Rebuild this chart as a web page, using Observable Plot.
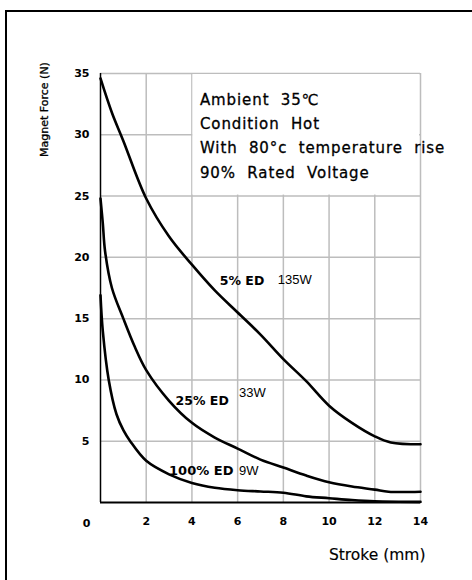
<!DOCTYPE html>
<html>
<head>
<meta charset="utf-8">
<script src="https://cdn.jsdelivr.net/npm/d3@7"></script>
<script src="https://cdn.jsdelivr.net/npm/@observablehq/plot@0.6"></script>
<style>
  html, body { margin: 0; padding: 0; background: #fff; overflow: hidden; }
  #wrap { position: relative; width: 472px; height: 580px; }
  #frame { position: absolute; left: 5px; top: 10px; width: 600px; height: 700px;
           border-left: 2px solid #000; border-top: 2px solid #000; }
  #chart { position: absolute; left: 0; top: 0; }
</style>
</head>
<body>
<div id="wrap"><div id="frame"></div><div id="chart"></div></div>
<script>
// Stroke (mm) and magnet force (N)
const stroke5  = [0, 0.5, 1, 2, 3, 4, 5, 6, 7, 8, 9, 10, 11, 12, 12.7, 14];
const force5   = [34.6, 31.8, 29.5, 24.8, 21.7, 19.4, 17.3, 15.5, 13.7, 11.7, 9.9, 7.9, 6.5, 5.4, 4.9, 4.75];

const stroke25 = [0, 0.1, 0.2, 0.5, 1, 1.5, 2, 3, 4, 5, 6, 7, 8, 9, 10, 11, 12, 12.6, 14];
const force25  = [24.8, 22.8, 20.5, 17.5, 15.0, 12.7, 10.8, 8.3, 6.5, 5.3, 4.4, 3.5, 2.85, 2.2, 1.65, 1.3, 1.05, 0.88, 0.88];

const stroke100 = [0, 0.1, 0.36, 0.7, 1, 1.3, 2, 3, 4, 5, 6, 7, 8, 9, 10, 11, 12, 14];
const force100  = [16.9, 14.0, 10.0, 7.2, 5.9, 5.0, 3.4, 2.3, 1.6, 1.2, 1.0, 0.9, 0.8, 0.5, 0.35, 0.2, 0.1, 0.05];

const xTicks = [2, 4, 6, 8, 10, 12, 14];
const yTicks = [5, 10, 15, 20, 25, 30, 35];
const seriesNames = ["5% ED", "25% ED", "100% ED"];
const powerLabels = ["135W", "33W", "9W"];
const noteLines = ["Ambient  35\u2103", "Condition  Hot", "With  80\u00B0c  temperature  rise", "90%  Rated  Voltage"];

const toRows = (xs, ys, name) => xs.map((x, i) => ({x, y: ys[i], name}));
const d5 = toRows(stroke5, force5, seriesNames[0]);
const d25 = toRows(stroke25, force25, seriesNames[1]);
const d100 = toRows(stroke100, force100, seriesNames[2]);

const cad = "DejaVu Sans";
const grid = "#bdbdbd";
const heavy = {fill: "#000", stroke: "#000", strokeWidth: 0.3, fontFamily: cad};
const medium = {fill: "#000", stroke: "#000", strokeWidth: 0.15, fontFamily: cad};

const chart = Plot.plot({
  width: 472,
  height: 580,
  marginLeft: 100,
  marginRight: 52,
  marginTop: 73,
  marginBottom: 78,
  style: {background: "transparent", overflow: "visible"},
  x: {domain: [0, 14], axis: null},
  y: {domain: [0, 35], axis: null},
  marks: [
    Plot.ruleX(xTicks, {stroke: grid, strokeWidth: 1.5}),
    Plot.ruleY(yTicks, {stroke: grid, strokeWidth: 1.5}),
    Plot.rect([0], {x1: xTicks[1], x2: xTicks[6], y1: yTicks[4], y2: yTicks[6], fill: "white", inset: 1}),
    Plot.ruleX([0], {stroke: "#000", strokeWidth: 1.5}),
    Plot.ruleY([0], {stroke: "#000", strokeWidth: 2}),
    Plot.line(d5, {x: "x", y: "y", stroke: "#000", strokeWidth: 2.6, curve: "catmull-rom"}),
    Plot.line(d25, {x: "x", y: "y", stroke: "#000", strokeWidth: 2.6, curve: "catmull-rom"}),
    Plot.line(d100, {x: "x", y: "y", stroke: "#000", strokeWidth: 2.6, curve: "catmull-rom"}),
    // tick labels
    Plot.axisY(yTicks, {tickSize: 0, tickPadding: 11, label: null, fontSize: 11, fontWeight: "bold", fontFamily: cad, fill: "#000"}),
    Plot.axisX(xTicks, {tickSize: 0, tickPadding: 15, label: null, fontSize: 11, fontWeight: "bold", fontFamily: cad, fill: "#000"}),
    Plot.text(["0"], {x: 0, y: 0, dx: -14, dy: 20.5, fontSize: 11, fontWeight: "bold", fontFamily: cad, fill: "#000"}),
    // axis titles
    Plot.text(["Magnet Force (N)"], {frameAnchor: "top-left", dx: -56, dy: 36, rotate: -90, textAnchor: "middle", lineAnchor: "middle", fontSize: 11, ...heavy}),
    Plot.text(["Stroke (mm)"], {frameAnchor: "bottom-right", dx: 5, dy: 53, textAnchor: "end", lineAnchor: "middle", fontSize: 15.5, ...medium}),
    // note box text
    Plot.text([noteLines.join("\n")], {x: xTicks[1], y: yTicks[6], dx: 8, dy: 14, textAnchor: "start", lineAnchor: "top", lineHeight: 1.62, fontSize: 15, ...heavy}),
    // curve labels
    Plot.text([d5[6]], {x: "x", y: "y", text: "name", dx: 5, dy: -9, textAnchor: "start", fontSize: 12.5, fontWeight: "bold", fontFamily: cad, fill: "#000"}),
    Plot.text([d5[6]], {x: "x", y: "y", text: () => powerLabels[0], dx: 63, dy: -11, textAnchor: "start", fontSize: 13, fontFamily: "Liberation Sans", fill: "#000"}),
    Plot.text([d25[7]], {x: "x", y: "y", text: "name", dx: 6.5, dy: 0.5, textAnchor: "start", fontSize: 12.5, fontWeight: "bold", fontFamily: cad, fill: "#000"}),
    Plot.text([d25[7]], {x: "x", y: "y", text: () => powerLabels[1], dx: 70, dy: -8, textAnchor: "start", fontSize: 13, fontFamily: "Liberation Sans", fill: "#000"}),
    Plot.text([d100[7]], {x: "x", y: "y", text: "name", dx: 0, dy: -3.5, textAnchor: "start", fontSize: 13, fontWeight: "bold", fontFamily: cad, fill: "#000"}),
    Plot.text([d100[7]], {x: "x", y: "y", text: () => powerLabels[2], dx: 70, dy: -3.5, textAnchor: "start", fontSize: 13, fontFamily: "Liberation Sans", fill: "#000"})
  ]
});
// widen the note lettering like the reference's CAD font
d3.select(chart).selectAll("text").filter(function () { return this.textContent.includes("Ambient") || this.querySelector("tspan"); })
  .attr("letter-spacing", "0.9px");
document.getElementById("chart").appendChild(chart);
</script>
</body>
</html>
